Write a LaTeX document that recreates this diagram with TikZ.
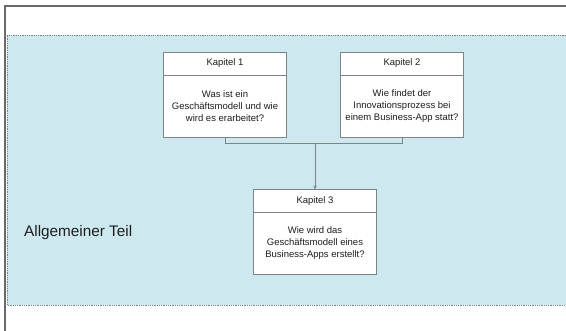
\documentclass[tikz,border=0pt]{standalone}
\usepackage{fontspec}
\setmainfont{Liberation Sans}
\usetikzlibrary{arrows.meta, positioning}
\definecolor{bandblue}{HTML}{CDE8EE}
\definecolor{framegray}{HTML}{6A6A6A}
\definecolor{boxgray}{HTML}{7B8589}
\definecolor{txtdark}{HTML}{1E1E1E}

\tikzset{
  kaphead/.style={draw=boxgray, fill=white, line width=0.9pt, outer sep=0pt, inner sep=0pt,
    minimum width=123pt, minimum height=23pt, font=\fontsize{9.5}{12}\selectfont, text=txtdark},
  kapbody/.style={kaphead, minimum height=62pt, align=center},
  link/.style={draw=boxgray, line width=0.9pt}
}

\begin{document}
\begin{tikzpicture}[x=1pt, y=-1pt, >={Stealth[length=4pt, width=3.5pt]}]

\useasboundingbox (0,0) rectangle (566,331);

% Frame (open to the right and bottom)
\draw[framegray, line width=1.3pt] (5,331) -- (5,6) -- (566,6);

% Band
\fill[bandblue] (7,35) rectangle (566,305);
\draw[gray, densely dotted, line width=0.8pt] (566,35) -- (7,35) -- (7,305) -- (566,305);

\node[anchor=west, inner sep=0pt, font=\fontsize{15.3}{18}\selectfont, text=txtdark] (teil) at (24,233) {Allgemeiner Teil};

% Kapitel 1 and 2
\node[kaphead] (kap1head) at (225,63.5) {Kapitel 1};
\node[kapbody, below=0pt of kap1head] (kap1body) {Was ist ein\\Geschäftsmodell und wie\\wird es erarbeitet?};

\node[kaphead] (kap2head) at (402,63.5) {Kapitel 2};
\node[kapbody, below=0pt of kap2head] (kap2body) {Wie findet der\\Innovationsprozess bei\\einem Business-App statt?};

% Kapitel 3
\node[kaphead] (kap3head) at (315,201) {Kapitel 3};
\node[kapbody, below=0pt of kap3head] (kap3body) {Wie wird das\\Geschäftsmodell eines\\Business-Apps erstellt?};

% Connectors
\draw[link] (kap1body.south) -- ++(0,6) coordinate (bend1) -| (kap2body.south);
\coordinate (merge) at (kap3head.north |- bend1);
\draw[link, ->] (merge) -- (kap3head.north);

\end{tikzpicture}
\end{document}
